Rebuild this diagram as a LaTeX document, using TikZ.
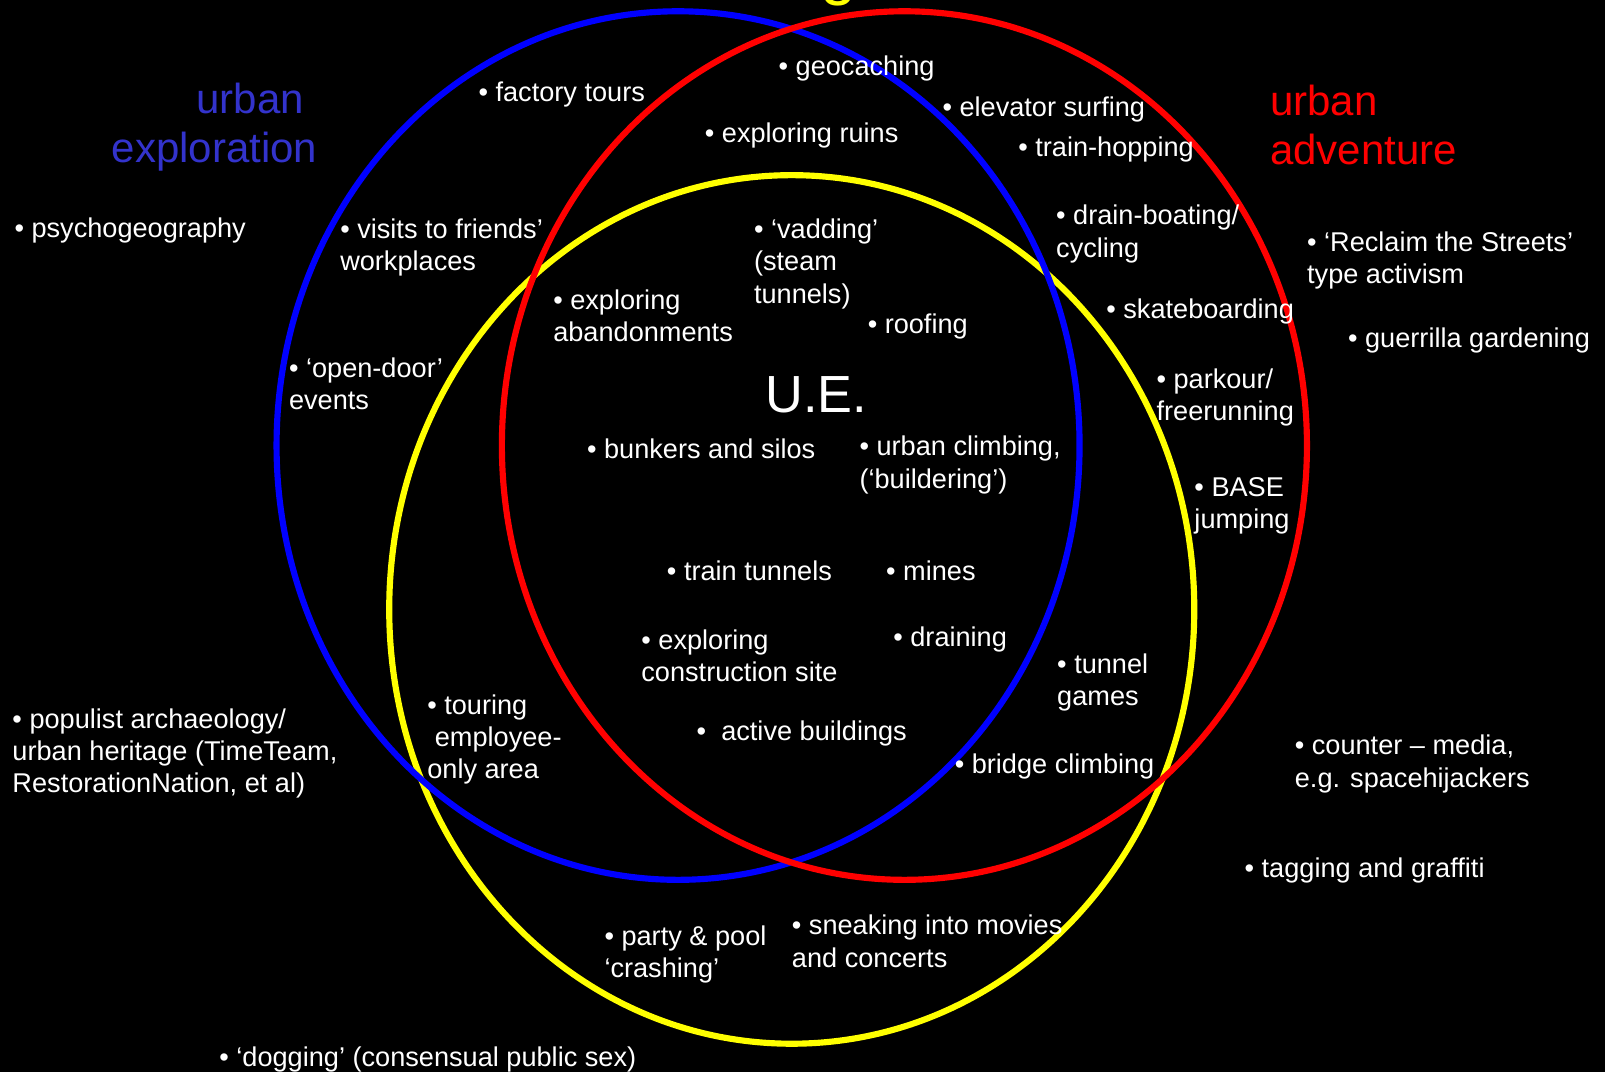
\documentclass[tikz,border=0pt]{standalone}
\usepackage{fontspec}
\setmainfont{Liberation Sans}
\usepackage{tikz}
\usepackage{xcolor}
\definecolor{uxblue}{RGB}{0,0,255}
\definecolor{uxred}{RGB}{255,0,0}
\definecolor{uxyellow}{RGB}{255,255,0}
\definecolor{uxtitleblue}{RGB}{51,51,204}
\newcommand{\itemsize}{\fontsize{26.5}{31.5}\selectfont}
\newcommand{\titlesize}{\fontsize{41}{48}\selectfont}
\tikzstyle{item} = [anchor=west, align=left, inner sep=0pt, yshift=-2.5pt, text=white, font=\itemsize]
\tikzstyle{ring} = [line width=6pt]
\tikzstyle{title} = [inner sep=0pt, font=\titlesize]

\begin{document}
\begin{tikzpicture}[x=1pt, y=-1pt]
\useasboundingbox (0,0) rectangle (1567,1047);
\fill[black] (0,0) rectangle (1567,1047);

% Three rings
\draw[ring, uxyellow] (773,595) ellipse [x radius=393pt, y radius=424pt];
\draw[ring, uxblue] (662,435) ellipse [x radius=392pt, y radius=424pt];
\draw[ring, uxred] (883,435) ellipse [x radius=393pt, y radius=424pt];

% Cut-off heading letter
\node[anchor=base, inner sep=0pt, text=uxyellow, font=\fontsize{64}{64}\selectfont] (gtail) at (819,-7) {g};

% Titles
\node[title, anchor=east, align=right, text=uxtitleblue] (explore) at (310,124) {urban\hspace*{13pt}\\exploration};
\node[title, anchor=west, align=left, text=uxred] (adventure) at (1240,122) {urban\\adventure};
\node[inner sep=0pt, text=white, font=\fontsize{51}{60}\selectfont] (ue) at (797,385) {U.E.};

% Top
\node[item] (geo) at (760,64) {• geocaching};
\node[item] (factory) at (467,90) {• factory tours};
\node[item] (elevator) at (920,104) {• elevator surfing};
\node[item] (ruins) at (688,130) {• exploring ruins};
\node[item] (trainhop) at (994,143) {• train-hopping};

% Upper band
\node[item] (psycho) at (14,223) {• psychogeography};
\node[item] (visits) at (332,239) {• visits to friends’\\workplaces};
\node[item] (vadding) at (736,255) {• ‘vadding’\\(steam\\tunnels)};
\node[item] (drainboat) at (1031,226) {• drain-boating/\\cycling};
\node[item] (reclaim) at (1276,252) {• ‘Reclaim the Streets’\\type activism};
\node[item] (abandon) at (540,305.5) {• exploring\\abandonments};
\node[item] (roofing) at (847,316) {• roofing};
\node[item] (skate) at (1080,302) {• skateboarding};
\node[item] (guerrilla) at (1316,330) {• guerrilla gardening};
\node[item] (opendoor) at (282,372) {• ‘open-door’\\events};
\node[item] (parkour) at (1129,385.5) {• parkour/\\freerunning};

% Middle
\node[item] (bunkers) at (573,436) {• bunkers and silos};
\node[item] (climbing) at (839,451.5) {• urban climbing,\\(‘buildering’)};
\node[item] (base) at (1166,491.5) {• BASE\\jumping};
\node[item] (traintun) at (651,555) {• train tunnels};
\node[item] (mines) at (865,555) {• mines};
\node[item] (construct) at (626,637.5) {• exploring\\construction site};
\node[item] (draining) at (872,622) {• draining};
\node[item] (tunnelgames) at (1032,664) {• tunnel\\games};

% Lower band
\node[item] (populist) at (12,733) {• populist archaeology/\\urban heritage (TimeTeam,\\RestorationNation, et al)};
\node[item] (touring) at (417,719.5) {• touring\\\hspace*{0.278em}employee-\\only area};
\node[item] (active) at (680,714) {•\ \ active buildings};
\node[item] (bridge) at (932,746) {• bridge climbing};
\node[item] (counter) at (1264,743.5) {• counter – media,\\e.g. spacehijackers};
\node[item] (tagging) at (1215,847) {• tagging and graffiti};
\node[item] (party) at (590,929.5) {• party \& pool\\‘crashing’};
\node[item] (sneaking) at (773,916.5) {• sneaking into movies\\and concerts};
\node[item] (dogging) at (214,1032) {• ‘dogging’ (consensual public sex)};
\end{tikzpicture}
\end{document}
